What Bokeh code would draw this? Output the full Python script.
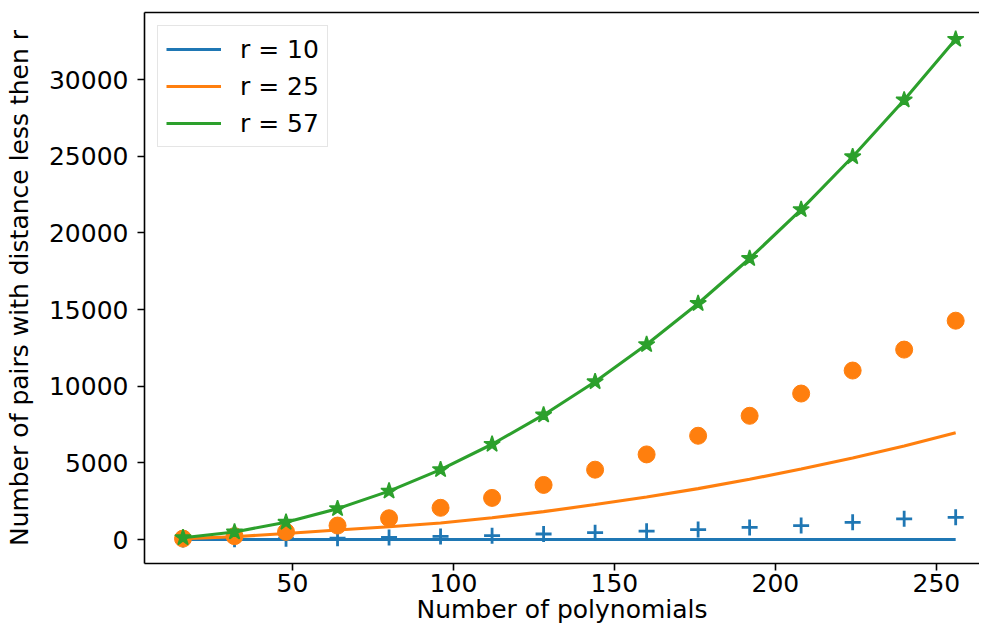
from bokeh.plotting import figure
from bokeh.models import Range1d, FixedTicker, LinearAxis, Legend, LegendItem
from bokeh.embed import file_html
from bokeh.resources import INLINE

# Data
n_poly = [16, 32, 48, 64, 80, 96, 112, 128, 144, 160, 176, 192, 208, 224, 240, 256]
r10_line = [0, 0, 0, 0, 0, 0, 0, 0, 0, 0, 0, 0, 0, 0, 0, 0]
r10_pts = [5, 22, 50, 90, 140, 200, 250, 360, 450, 545, 650, 790, 910, 1120, 1350, 1450]
r25_line = [60, 180, 390, 620, 830, 1080, 1420, 1820, 2280, 2780, 3320, 3930, 4600, 5320, 6100, 6960]
r25_pts = [60, 220, 500, 911, 1389, 2070, 2715, 3561, 4557, 5553, 6771, 8073, 9525, 11026, 12392, 14278]
r57_line = [120, 496, 1128, 2016, 3160, 4560, 6216, 8128, 10296, 12720, 15400, 18336, 21528, 24976, 28680, 32640]
r57_pts = [120, 496, 1128, 2016, 3160, 4560, 6216, 8128, 10296, 12720, 15400, 18336, 21528, 24976, 28680, 32640]
labels = ["r = 10", "r = 25", "r = 57"]
x_ticks = [50, 100, 150, 200, 250]
y_ticks = [0, 5000, 10000, 15000, 20000, 25000, 30000]
x_title = "Number of polynomials"
y_title = "Number of pairs with distance less then r"

BLUE, ORANGE, GREEN = "#1f77b4", "#ff7f0e", "#2ca02c"
FONT = "DejaVu Sans"
FS = "25px"

p = figure(width=979, height=631, output_backend="svg", toolbar_location=None,
           x_range=Range1d(4.04, 263.4), y_range=Range1d(-1564, 34386),
           min_border_left=144, min_border_right=0, min_border_top=12, min_border_bottom=68)
p.outline_line_color = None
p.xgrid.visible = False
p.ygrid.visible = False
p.background_fill_color = "white"
p.border_fill_color = "white"

for ax in (p.xaxis[0], p.yaxis[0]):
    ax.axis_line_color = "black"
    ax.axis_line_width = 1.6
    ax.major_tick_line_width = 1.6
    ax.major_tick_line_color = "black"
    ax.major_tick_out = 7
    ax.major_tick_in = 0
    ax.minor_tick_out = 0
    ax.minor_tick_in = 0
    ax.major_label_text_font = FONT
    ax.major_label_text_font_size = FS
    ax.major_label_text_color = "black"
    ax.axis_label_text_font = FONT
    ax.axis_label_text_font_size = FS
    ax.axis_label_text_font_style = "normal"
    ax.axis_label_text_color = "black"

p.xaxis[0].ticker = FixedTicker(ticks=x_ticks)
p.yaxis[0].ticker = FixedTicker(ticks=y_ticks)
p.xaxis[0].axis_label = x_title
p.yaxis[0].axis_label = y_title
p.xaxis[0].major_label_standoff = 3
p.xaxis[0].axis_label_standoff = 0
p.yaxis[0].major_label_standoff = 9
p.yaxis[0].axis_label_standoff = 12

top = LinearAxis(ticker=FixedTicker(ticks=[]), axis_line_color="black", axis_line_width=1.6,
                 major_tick_out=0, major_tick_in=0, minor_tick_out=0, minor_tick_in=0,
                 major_label_text_font_size="0px", major_label_standoff=0)
p.add_layout(top, "above")

lw = 3.1
l10 = p.line(n_poly, r10_line, line_color=BLUE, line_width=lw)
p.scatter(n_poly, r10_pts, marker="cross", size=16, line_color=BLUE, line_width=2.8)
l25 = p.line(n_poly, r25_line, line_color=ORANGE, line_width=lw)
p.scatter(n_poly, r25_pts, marker="circle", size=17, fill_color=ORANGE, line_color=ORANGE)
l57 = p.line(n_poly, r57_line, line_color=GREEN, line_width=lw)
p.scatter(n_poly, r57_pts, marker="star", size=17, fill_color=GREEN, line_color=GREEN, line_width=1.5)

legend = Legend(items=[LegendItem(label=labels[0], renderers=[l10]),
                       LegendItem(label=labels[1], renderers=[l25]),
                       LegendItem(label=labels[2], renderers=[l57])],
                location="top_left")
legend.margin = 13
legend.padding = 8
legend.spacing = 7
legend.glyph_width = 55
legend.glyph_height = 30
legend.label_standoff = 19
legend.label_text_font = FONT
legend.label_text_font_size = FS
legend.label_text_color = "black"
legend.label_height = 30
legend.border_line_color = "#cccccc"
legend.border_line_width = 1.6
legend.background_fill_alpha = 0.8
p.add_layout(legend)

open("out.html", "w").write(file_html(p, INLINE))
